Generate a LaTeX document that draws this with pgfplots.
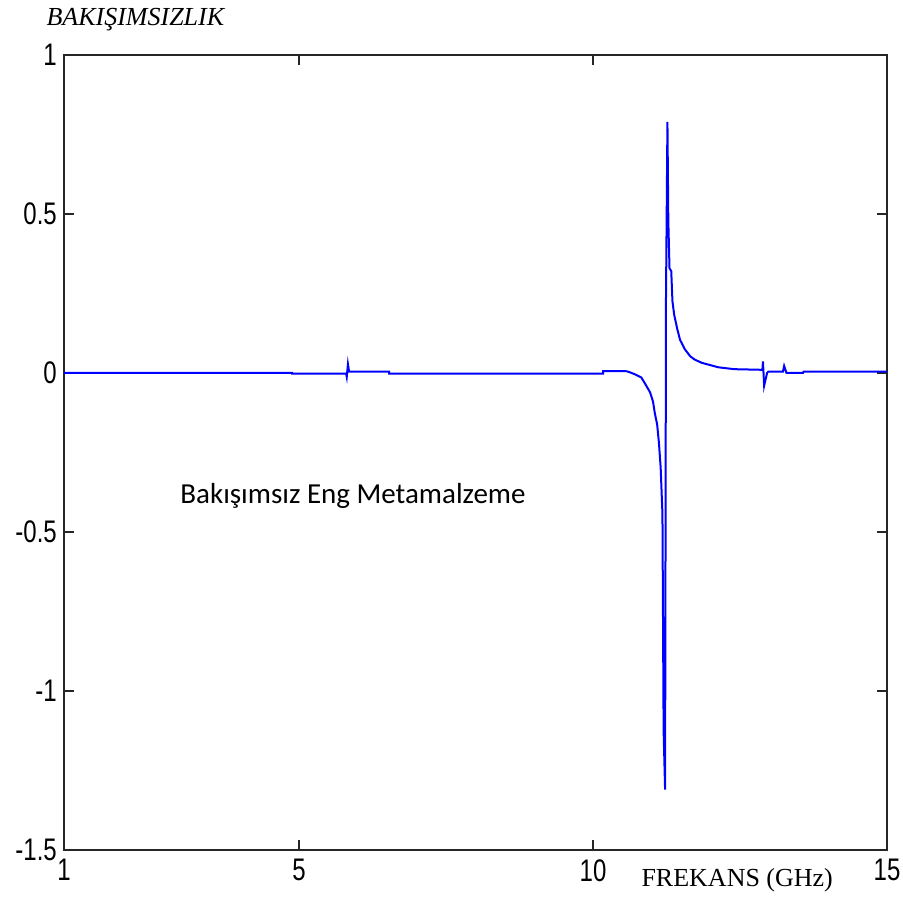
\documentclass[border=0pt]{standalone}
\usepackage{fontspec}
\setmainfont{Liberation Serif}
\newfontfamily\arialf{Liberation Sans}
\newfontfamily\calib{Carlito}
\usepackage{pgfplots}
\pgfplotsset{compat=1.18}
\begin{document}
\begin{tikzpicture}[x=1pt,y=1pt]
\useasboundingbox (-64,-50) rectangle (839,850);
\begin{axis}[
  at={(0,0)}, anchor=south west,
  scale only axis, width=823pt, height=795pt,
  xmin=1, xmax=15, ymin=-1.5, ymax=1,
  xtick={1,5,10,15}, ytick={-1.5,-1,-0.5,0,0.5,1},
  minor tick num=0,
  tick align=inside, major tick length=10pt,
  axis line style={line width=1.6pt, draw=black!85},
  tick style={line width=1.3pt, black!85},
  ticklabel style={font=\arialf\fontsize{24}{24}\selectfont, text=black, yscale=1.3},
  /pgf/number format/assume math mode=true,
  /pgf/number format/fixed,
  yticklabel style={inner xsep=7pt},
  xticklabel style={inner ysep=7pt},
  clip=false,
]
\addplot[color={rgb,255:red,0;green,0;blue,255}, line width=2pt] coordinates {
(1,0) (4.88,0) (4.88,-0.002) (5.80,-0.002) (5.81,-0.012) (5.83,0.028) (5.85,0.004)
(6.53,0.004) (6.53,-0.002) (10.17,-0.002) (10.17,0.006) (10.55,0.006) (10.60,0.004)
(10.71,-0.004) (10.82,-0.014) (10.88,-0.032) (10.97,-0.061) (11.02,-0.09) (11.05,-0.126)
(11.09,-0.162) (11.12,-0.219) (11.15,-0.298) (11.18,-0.442) (11.20,-1.125) (11.225,-1.31)
(11.24,0.226) (11.265,0.79) (11.28,0.478) (11.30,0.33) (11.33,0.32) (11.35,0.226)
(11.38,0.183) (11.43,0.14) (11.48,0.104) (11.56,0.075) (11.65,0.053) (11.73,0.042)
(11.85,0.032) (11.99,0.025) (12.13,0.018) (12.40,0.012) (12.88,0.010) (12.89,0.036)
(12.91,-0.04) (12.96,0.0) (12.98,0.004) (13.23,0.004) (13.25,0.022) (13.29,0.0)
(13.57,0.0) (13.58,0.004) (15,0.004)
};
\node[anchor=base west, font=\calib\fontsize{29}{29}\selectfont] at (axis cs:2.92,-0.41) {Bakışımsız Eng Metamalzeme};
\end{axis}
\node[anchor=base west, font=\itshape\fontsize{26}{26}\selectfont] at (-21,824) {BAKIŞIMSIZLIK};
\node[anchor=base west, font=\fontsize{26}{26}\selectfont] at (574,-37) {FREKANS (GHz)};
\end{tikzpicture}
\end{document}
